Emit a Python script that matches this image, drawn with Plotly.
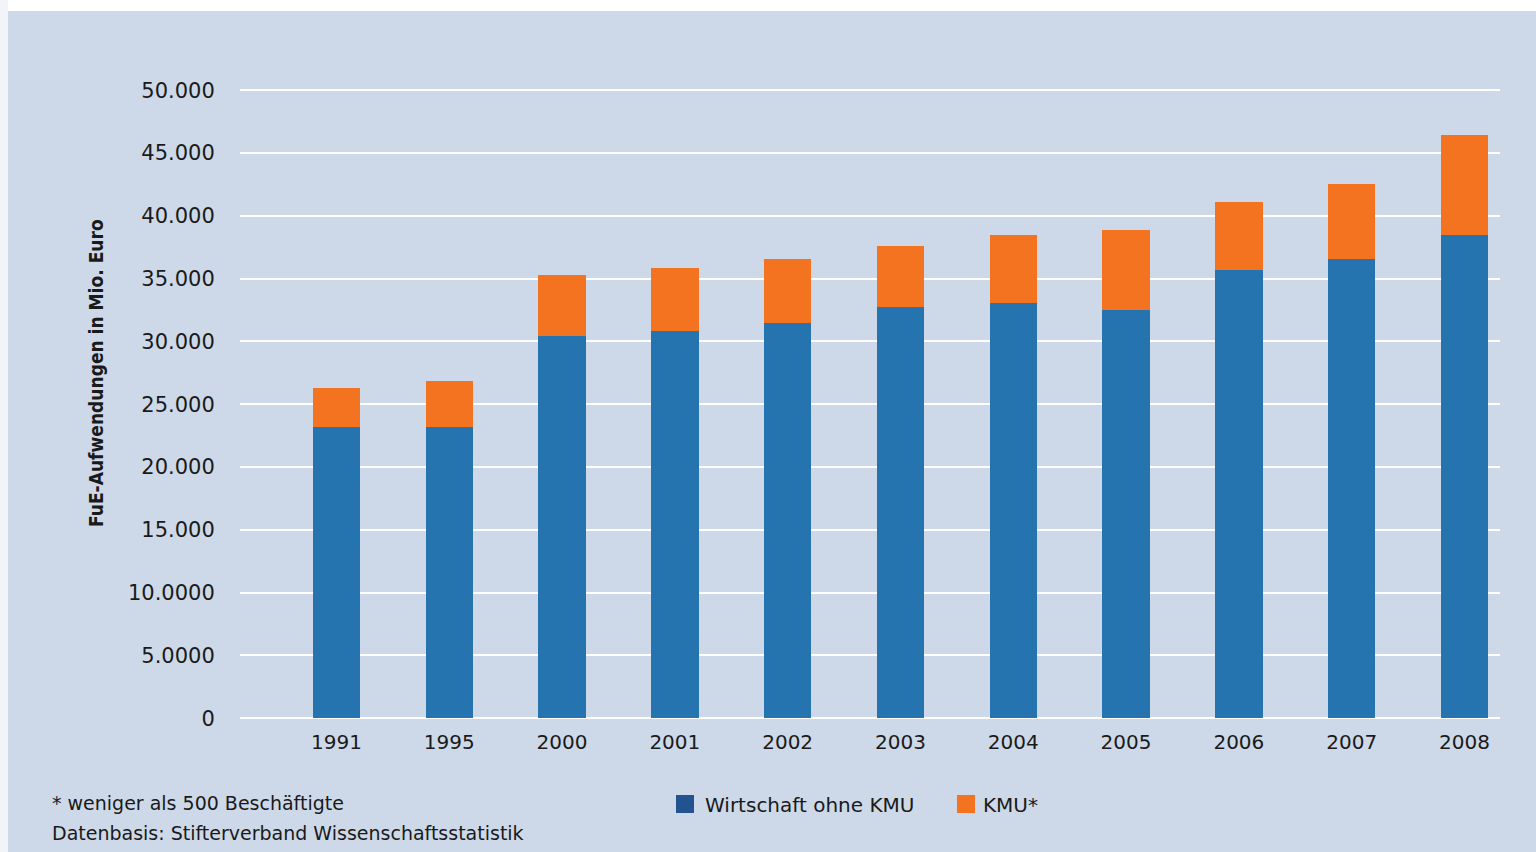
import plotly.graph_objects as go

years = ["1991", "1995", "2000", "2001", "2002", "2003", "2004", "2005", "2006", "2007", "2008"]
wirtschaft_ohne_kmu = [23170, 23170, 30410, 30810, 31450, 32720, 33040, 32480, 35670, 36540, 38460]
gesamt = [26270, 26830, 35270, 35830, 36540, 37580, 38460, 38850, 41080, 42520, 46420]
kmu = [g - w for g, w in zip(gesamt, wirtschaft_ohne_kmu)]

y_tickvals = [0, 5000, 10000, 15000, 20000, 25000, 30000, 35000, 40000, 45000, 50000]
y_ticktext = ["0", "5.0000", "10.0000", "15.000", "20.000", "25.000", "30.000", "35.000", "40.000", "45.000", "50.000"]

series_names = ["Wirtschaft ohne KMU", "KMU*"]

BG = "#cdd9e8"
BLUE = "#2574b0"
BLUE_LEG = "#22528f"
ORANGE = "#f37321"
TXT = "#1a1a1a"
FONT = "DejaVu Sans"
FONT_C = "DejaVu Sans Condensed"

W, H = 1536, 852
L, R, T, B = 240, 36, 84, 130
PW, PH = W - L - R, H - T - B

def px(x):
    return (x - L) / PW

def py(y):
    return (H - B - y) / PH

fig = go.Figure()
fig.add_trace(go.Bar(x=years, y=wirtschaft_ohne_kmu, name=series_names[0],
                     marker=dict(color=BLUE, line=dict(width=0)), width=0.42))
fig.add_trace(go.Bar(x=years, y=kmu, name=series_names[1],
                     marker=dict(color=ORANGE, line=dict(width=0)), width=0.42))

annotations = [
    dict(text="<b>FuE-Aufwendungen in Mio. Euro</b>", xref="paper", yref="paper",
         x=px(96), y=py(373), textangle=-90, showarrow=False,
         font=dict(size=19, color=TXT, family=FONT_C),
         xanchor="center", yanchor="middle"),
    dict(text="* weniger als 500 Beschäftigte", xref="paper", yref="paper",
         x=px(50), y=py(803), showarrow=False, xanchor="left", yanchor="middle",
         font=dict(size=19, color=TXT, family=FONT)),
    dict(text="Datenbasis: Stifterverband Wissenschaftsstatistik", xref="paper", yref="paper",
         x=px(50), y=py(833), showarrow=False, xanchor="left", yanchor="middle",
         font=dict(size=19, color=TXT, family=FONT)),
    dict(text=series_names[0], xref="paper", yref="paper",
         x=px(703), y=py(805), showarrow=False, xanchor="left", yanchor="middle",
         font=dict(size=20, color=TXT, family=FONT)),
    dict(text=series_names[1], xref="paper", yref="paper",
         x=px(981), y=py(805), showarrow=False, xanchor="left", yanchor="middle",
         font=dict(size=20, color=TXT, family=FONT)),
]

shapes = [
    dict(type="rect", xref="paper", yref="paper", x0=px(676), x1=px(694), y0=py(813), y1=py(795),
         fillcolor=BLUE_LEG, line=dict(width=0)),
    dict(type="rect", xref="paper", yref="paper", x0=px(957), x1=px(975), y0=py(813), y1=py(795),
         fillcolor=ORANGE, line=dict(width=0)),
    dict(type="rect", xref="paper", yref="paper", x0=px(0), x1=px(W), y0=py(11), y1=py(0),
         fillcolor="#ffffff", line=dict(width=0), layer="above"),
    dict(type="rect", xref="paper", yref="paper", x0=px(0), x1=px(8), y0=py(H), y1=py(0),
         fillcolor="#f1f4f8", line=dict(width=0), layer="above"),
]

fig.update_layout(
    width=W, height=H,
    barmode="stack",
    paper_bgcolor=BG, plot_bgcolor=BG,
    margin=dict(l=L, r=R, t=T, b=B, autoexpand=False),
    font=dict(family=FONT, color=TXT, size=19),
    xaxis=dict(type="category", range=[-0.855, 10.315], showgrid=False, zeroline=False,
               showline=False, ticks="outside", ticklen=2, tickcolor=BG,
               tickfont=dict(size=20, color=TXT, family=FONT)),
    yaxis=dict(range=[-300, 50500], tickvals=y_tickvals, ticktext=y_ticktext,
               showgrid=True, gridcolor="#ffffff", gridwidth=2, zeroline=False,
               showline=False, ticks="outside", ticklen=20, tickcolor=BG,
               tickfont=dict(size=21, color=TXT, family=FONT)),
    showlegend=False,
    annotations=annotations,
    shapes=shapes,
)

fig.write_html("out.html", config={"displayModeBar": False},
               post_script="document.body.style.margin='0';document.body.style.overflow='hidden';")
